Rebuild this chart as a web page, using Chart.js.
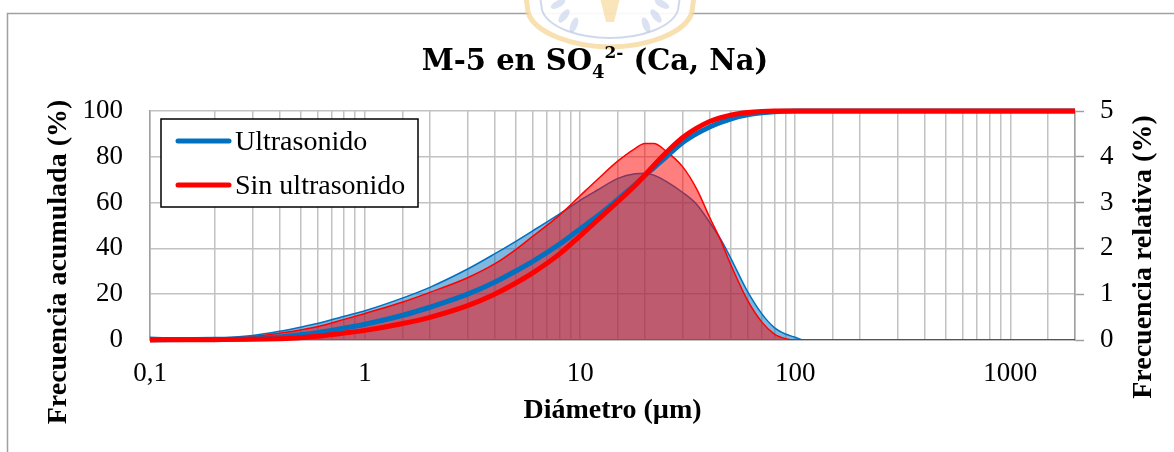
<!DOCTYPE html>
<html>
<head>
<meta charset="utf-8">
<script src="https://cdn.jsdelivr.net/npm/chart.js@4"></script>
<style>
  html, body { margin: 0; padding: 0; background: #fff; }
  canvas { display: block; }
</style>
</head>
<body>
<canvas id="grafico" width="1174" height="452"></canvas>
<script>
// Diámetro de partícula (µm)
const diametros = [0.1, 0.15, 0.2, 0.3, 0.4, 0.5, 0.6, 0.8, 1, 1.5, 2, 3, 4, 5, 6, 8, 10, 12, 15, 18,
                   20, 22, 25, 30, 35, 40, 45, 50, 60, 70, 80, 90, 100, 110, 120, 150, 200, 500, 1000, 2000];

// Frecuencia acumulada (%)
const acumUltra = [0.1, 0.2, 0.3, 0.6, 1.3, 2.3, 3.2, 5.2, 6.9, 10.8, 14.3, 20.0, 25.2, 30.0, 34.2, 41.8, 48.5, 54.0, 61.5, 67.8,
                   71.8, 75.2, 79.8, 86.2, 90.2, 93.0, 95.0, 96.5, 98.3, 99.2, 99.7, 99.9, 100, 100, 100, 100, 100, 100, 100, 100];
const acumSin   = [0.05, 0.1, 0.15, 0.3, 0.6, 1.0, 1.6, 3.0, 4.2, 7.2, 9.9, 15.0, 20.0, 24.8, 29.2, 37.5, 45.5, 52.2, 60.5, 67.5,
                   72.0, 76.2, 81.6, 88.4, 92.6, 95.4, 97.1, 98.2, 99.3, 99.8, 100, 100, 100, 100, 100, 100, 100, 100, 100, 100];

// Frecuencia relativa (%)
const relUltra = [0.06, 0.03, 0.04, 0.10, 0.19, 0.28, 0.36, 0.52, 0.64, 0.92, 1.15, 1.55, 1.88, 2.15, 2.38, 2.75, 3.05, 3.27, 3.53, 3.63,
                  3.64, 3.60, 3.47, 3.22, 2.95, 2.57, 2.20, 1.80, 1.06, 0.57, 0.27, 0.13, 0.06, 0, 0, 0, 0, 0, 0, 0];
const relSin   = [0.02, 0.01, 0.02, 0.07, 0.15, 0.22, 0.29, 0.45, 0.58, 0.83, 1.04, 1.36, 1.66, 1.97, 2.26, 2.72, 3.15, 3.50, 3.91, 4.18,
                  4.29, 4.29, 4.13, 3.78, 3.28, 2.68, 2.18, 1.66, 0.87, 0.39, 0.13, 0.03, 0, 0, 0, 0, 0, 0, 0, 0];

const series = ['Ultrasonido', 'Sin ultrasonido'];
const ticksAcum = [0, 20, 40, 60, 80, 100];
const ticksRel = [0, 1, 2, 3, 4, 5];
const tituloEjeIzq = 'Frecuencia acumulada (%)';
const tituloEjeDer = 'Frecuencia relativa (%)';
const tituloEjeX = 'Diámetro (µm)';

const AZUL = '#0070c0';
const ROJO = '#ff0000';
const GRIS_EJE = '#a0a0a0';
const GRIS_REJILLA = '#c2c2c2';

const puntos = (valores) => diametros.map((d, i) => ({ x: d, y: valores[i] }));

// Fondo blanco, marco exterior y emblema tenue de fondo en el borde superior
const marco = {
  id: 'marco',
  beforeDraw(chart) {
    const c = chart.ctx;
    c.save();
    c.fillStyle = '#fff';
    c.fillRect(0, 0, chart.width, chart.height);
    c.strokeStyle = GRIS_EJE;
    c.lineWidth = 1.5;
    c.beginPath();
    c.moveTo(7.5, chart.height + 2);
    c.lineTo(7.5, 13.5);
    c.lineTo(chart.width + 2, 13.5);
    c.stroke();

    // emblema (marca de agua)
    const cx = 610;
    c.beginPath();
    c.moveTo(cx - 84, -4);
    c.lineTo(cx - 82, 12);
    c.bezierCurveTo(cx - 76, 34, cx - 34, 47, cx, 47);
    c.bezierCurveTo(cx + 34, 47, cx + 76, 34, cx + 82, 12);
    c.lineTo(cx + 84, -4);
    c.closePath();
    c.fillStyle = 'rgba(255,255,255,0.92)';
    c.fill();
    c.lineWidth = 5;
    c.strokeStyle = 'rgba(246,214,150,0.75)';
    c.stroke();
    c.beginPath();
    c.moveTo(cx - 70, -4);
    c.lineTo(cx - 68, 10);
    c.bezierCurveTo(cx - 62, 28, cx - 30, 38, cx, 38);
    c.bezierCurveTo(cx + 30, 38, cx + 62, 28, cx + 68, 10);
    c.lineTo(cx + 70, -4);
    c.lineWidth = 2;
    c.strokeStyle = 'rgba(170,185,220,0.55)';
    c.stroke();
    // hojas de laurel
    c.fillStyle = 'rgba(175,190,225,0.45)';
    const hojas = [[-52, 4, -0.5], [-46, 16, -0.9], [-36, 25, -1.2], [52, 4, 0.5], [46, 16, 0.9], [36, 25, 1.2]];
    hojas.forEach(([dx, y, a]) => {
      c.beginPath();
      c.ellipse(cx + dx, y, 8, 3.5, a, 0, Math.PI * 2);
      c.fill();
    });
    // antorcha central
    c.fillStyle = 'rgba(246,210,140,0.6)';
    c.beginPath();
    c.moveTo(cx - 10, -2);
    c.lineTo(cx + 10, -2);
    c.lineTo(cx + 4, 22);
    c.lineTo(cx - 4, 22);
    c.closePath();
    c.fill();
    c.restore();
  }
};

// Título con subíndice y superíndice: M-5 en SO₄²⁻ (Ca, Na)
const titulo = {
  id: 'titulo',
  afterDraw(chart) {
    const c = chart.ctx;
    const partes = [
      { t: 'M-5 en SO', f: 'bold 29px "DejaVu Serif"', dy: 0 },
      { t: '4', f: 'bold 18px "DejaVu Serif"', dy: 8 },
      { t: '2-', f: 'bold 17px "DejaVu Serif"', dy: -12 },
      { t: ' (Ca, Na)', f: 'bold 29px "DejaVu Serif"', dy: 0 }
    ];
    c.save();
    c.fillStyle = '#000';
    c.textBaseline = 'alphabetic';
    c.textAlign = 'left';
    let total = 0;
    partes.forEach(p => { c.font = p.f; p.w = c.measureText(p.t).width; total += p.w; });
    let x = 595 - total / 2;
    const base = 70;
    partes.forEach(p => { c.font = p.f; c.fillText(p.t, x, base + p.dy); x += p.w; });
    c.restore();
  }
};

// Títulos verticales de los dos ejes Y (ambos leídos de abajo hacia arriba)
const titulosY = {
  id: 'titulosY',
  afterDraw(chart) {
    const c = chart.ctx;
    const escribir = (texto, xBase, yCentro) => {
      c.save();
      c.translate(xBase, yCentro);
      c.rotate(-Math.PI / 2);
      c.fillStyle = '#000';
      c.font = 'bold 28px "Liberation Serif"';
      c.textAlign = 'center';
      c.textBaseline = 'alphabetic';
      c.fillText(texto, 0, 0);
      c.restore();
    };
    escribir(tituloEjeIzq, 66, 262);
    escribir(tituloEjeDer, 1151, 257);
  }
};

// Leyenda dentro del área de trazado
const leyenda = {
  id: 'leyenda',
  afterDraw(chart) {
    const c = chart.ctx;
    const colores = [AZUL, ROJO];
    c.save();
    c.fillStyle = '#fff';
    c.fillRect(161, 119, 257, 88);
    c.strokeStyle = '#000';
    c.lineWidth = 1.5;
    c.strokeRect(161, 119, 257, 88);
    c.lineCap = 'round';
    c.lineWidth = 5;
    c.font = '28px "Liberation Serif"';
    c.textBaseline = 'alphabetic';
    c.textAlign = 'left';
    series.forEach((nombre, i) => {
      const y = 141 + i * 44;
      c.strokeStyle = colores[i];
      c.beginPath();
      c.moveTo(178, y);
      c.lineTo(229, y);
      c.stroke();
      c.fillStyle = '#000';
      c.fillText(nombre, 235, y + 9);
    });
    c.restore();
  }
};

const fuenteTicks = { family: 'Liberation Serif', size: 27 };

new Chart(document.getElementById('grafico'), {
  type: 'line',
  data: {
    datasets: [
      {
        label: series[0],
        data: puntos(acumUltra),
        yAxisID: 'y',
        borderColor: AZUL,
        borderWidth: 5,
        fill: false,
        clip: false,
        cubicInterpolationMode: 'monotone',
        order: 2
      },
      {
        label: series[1],
        data: puntos(acumSin),
        yAxisID: 'y',
        borderColor: ROJO,
        borderWidth: 5,
        fill: false,
        clip: false,
        cubicInterpolationMode: 'monotone',
        order: 1
      },
      {
        label: series[0] + ' (relativa)',
        data: puntos(relUltra),
        yAxisID: 'y2',
        borderColor: AZUL,
        backgroundColor: 'rgba(0,112,192,0.5)',
        borderWidth: 1.5,
        fill: 'origin',
        cubicInterpolationMode: 'monotone',
        order: 4
      },
      {
        label: series[1] + ' (relativa)',
        data: puntos(relSin),
        yAxisID: 'y2',
        borderColor: ROJO,
        backgroundColor: 'rgba(255,0,0,0.5)',
        borderWidth: 1.5,
        fill: 'origin',
        cubicInterpolationMode: 'monotone',
        order: 3
      }
    ]
  },
  options: {
    responsive: false,
    animation: false,
    devicePixelRatio: 1,
    layout: { padding: { top: 111, left: 0, right: 0, bottom: 0 } },
    elements: { point: { radius: 0 } },
    plugins: {
      legend: { display: false },
      title: { display: false },
      tooltip: { enabled: false }
    },
    scales: {
      x: {
        type: 'logarithmic',
        min: 0.1,
        max: 2000,
        grid: { color: GRIS_REJILLA, lineWidth: 1.5, drawTicks: false },
        border: { display: true, color: GRIS_EJE, width: 1.5 },
        ticks: {
          autoSkip: false,
          maxRotation: 0,
          minRotation: 0,
          padding: 18,
          color: '#000',
          font: fuenteTicks,
          callback(v) {
            const e = Math.log10(v);
            if (Math.abs(e - Math.round(e)) > 1e-9) return '';
            return v < 1 ? String(v).replace('.', ',') : String(Math.round(v));
          }
        },
        title: {
          display: true,
          text: tituloEjeX,
          color: '#000',
          font: { family: 'Liberation Serif', size: 28, weight: 'bold' },
          padding: { top: 0, bottom: 24 }
        },
        afterFit(s) { s.height = 112; }
      },
      y: {
        position: 'left',
        min: 0,
        max: 100,
        afterBuildTicks(s) { s.ticks = ticksAcum.map(v => ({ value: v })); },
        grid: { color: GRIS_REJILLA, lineWidth: 1.5, drawTicks: false },
        border: { display: true, color: GRIS_EJE, width: 1.5 },
        ticks: { padding: 27, color: '#000', font: fuenteTicks },
        afterFit(s) { s.width = 150; }
      },
      y2: {
        position: 'right',
        min: 0,
        max: 5,
        afterBuildTicks(s) { s.ticks = ticksRel.map(v => ({ value: v })); },
        grid: { drawOnChartArea: false, drawTicks: true, tickLength: 9, color: GRIS_EJE, tickWidth: 1.5 },
        border: { display: true, color: GRIS_EJE, width: 1.5 },
        ticks: { padding: 16, color: '#000', font: fuenteTicks },
        afterFit(s) { s.width = 99; }
      }
    }
  },
  plugins: [marco, titulo, titulosY, leyenda]
});
</script>
</body>
</html>
